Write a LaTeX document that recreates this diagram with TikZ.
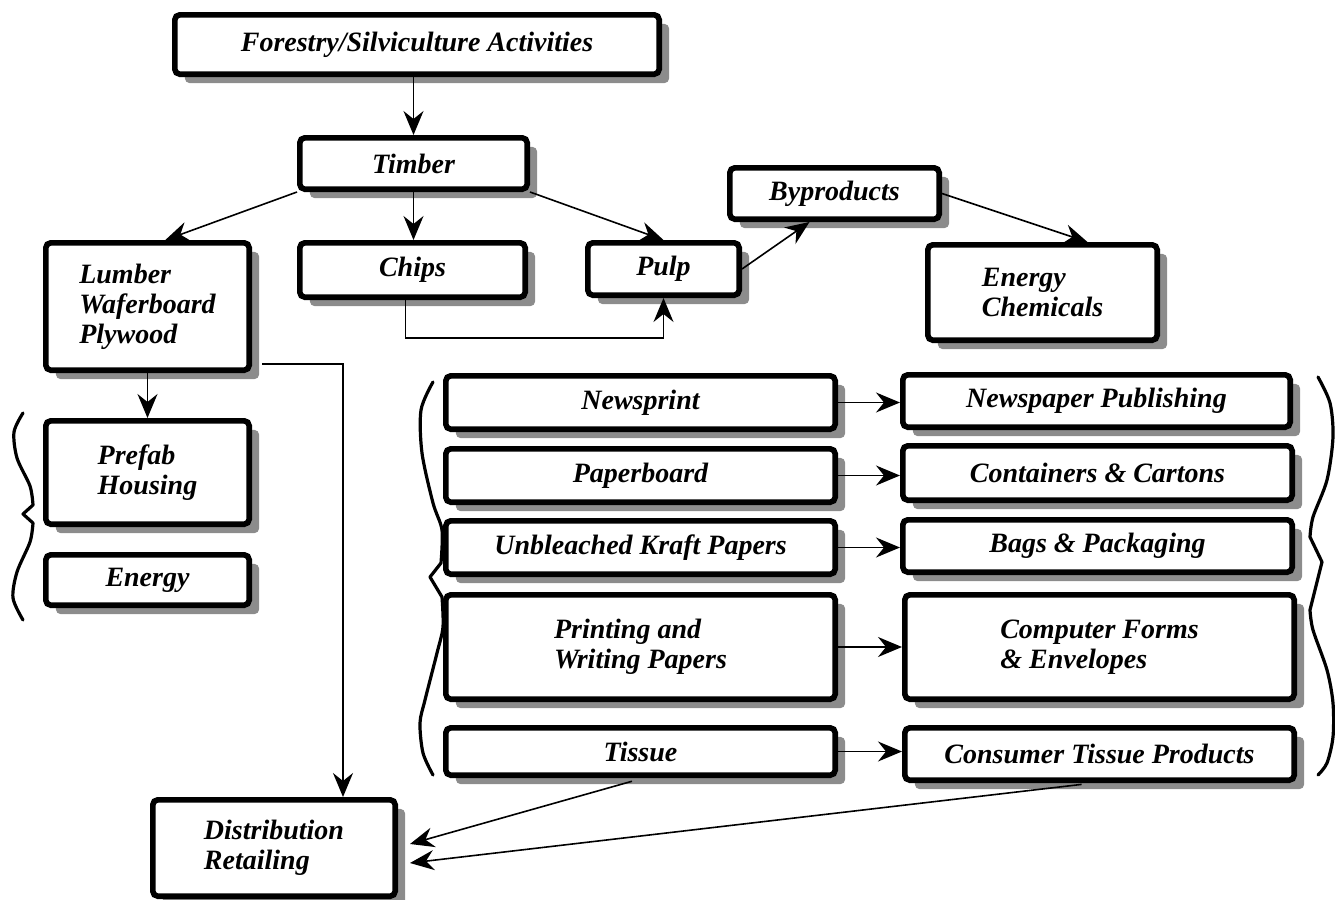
\documentclass[tikz,border=0pt]{standalone}
\usepackage{fontspec}
\setmainfont{Liberation Serif}
\usetikzlibrary{arrows.meta,shadows,calc}

\tikzset{
  box/.style={draw, line width=2.8pt, rounded corners=2.5pt, fill=white,
    inner sep=0pt, align=center,
    font=\fontsize{14}{15}\selectfont\bfseries\itshape,
    drop shadow={shadow xshift=5pt, shadow yshift=-4.5pt, fill=black!45, opacity=1}},
  bsize/.style 2 args={minimum width=#1*0.5pt-2.8pt, minimum height=#2*0.5pt-2.8pt},
  arr/.style={-{Stealth[length=12pt,width=10pt,inset=4pt]}, line width=0.8pt},
  brace/.style={line width=1.6pt, line join=round, line cap=round}
}

\begin{document}
\begin{tikzpicture}[x=0.5pt,y=-0.5pt]
\useasboundingbox (0,0) rectangle (1335,900);

% Boxes
\node[box,bsize={490}{65}] (forestry) at (417,44.5) {Forestry/Silviculture Activities};
\node[box,bsize={233}{57}] (timber) at (413.5,163.5) {Timber};
\node[box,bsize={209}{133},align=left] (lumber) at (147.5,306.5) {Lumber\\Waferboard\\Plywood};
\node[box,bsize={231}{60}] (chips) at (412.5,270) {Chips};
\node[box,bsize={157}{58}] (pulp) at (663.5,269) {Pulp};
\node[box,bsize={215}{57}] (byproducts) at (834.5,193.5) {Byproducts};
\node[box,bsize={235}{101},align=left] (energychem) at (1042.5,292.5) {Energy\\Chemicals};
\node[box,bsize={209}{109},align=left] (prefab) at (147.5,472.5) {Prefab\\Housing};
\node[box,bsize={209}{56}] (energy) at (147.5,580) {Energy};

% Paper grades
\node[box,bsize={395}{59}] (newsprint) at (640.5,402.5) {Newsprint};
\node[box,bsize={395}{59}] (paperboard) at (640.5,475.5) {Paperboard};
\node[box,bsize={395}{59}] (kraft) at (640.5,547.5) {Unbleached Kraft Papers};
\node[box,bsize={395}{110},align=left] (printing) at (640.5,647) {Printing and\\Writing Papers};
\node[box,bsize={395}{53}] (tissue) at (640.5,751.5) {Tissue};

% End uses
\node[box,bsize={393}{58}] (newspaper) at (1096.5,401) {Newspaper Publishing};
\node[box,bsize={395}{60}] (containers) at (1097.5,473) {Containers \& Cartons};
\node[box,bsize={395}{58}] (bags) at (1097.5,546) {Bags \& Packaging};
\node[box,bsize={395}{110},align=left] (computer) at (1099.5,647) {Computer Forms\\\& Envelopes};
\node[box,bsize={395}{58}] (consumer) at (1099.5,754) {Consumer Tissue Products};

\node[box,bsize={248}{102},align=left] (distribution) at (274,848) {Distribution\\Retailing};

% Connectors
\draw[arr] (timber.north |- forestry.south) -- (timber.north);
\draw[arr] (timber.south west) -- (lumber.75);
\draw[arr] (timber.south) -- (timber.south |- chips.north);
\draw[arr] (timber.south east) -- (pulp.north);
\draw[arr] ($(chips.south)+(-7,0)$) -- ++(0,38) -| (pulp.south);
\draw[arr] (pulp.east) -- ($(byproducts.south)+(-25,0)$);
\draw[arr] (byproducts.east) -- ($(energychem.north)+(45,0)$);
\draw[arr] (lumber.south) -- (prefab.north);
\coordinate (dtop) at ($(distribution.north)+(69,0)$);
\draw[arr] ($(lumber.south east)+(10,-9)$) -| (dtop);

\draw[arr] (newsprint.east) -- (newsprint.east -| newspaper.west);
\draw[arr] (paperboard.east) -- (paperboard.east -| containers.west);
\draw[arr] (kraft.east) -- (kraft.east -| bags.west);
\draw[arr] (printing.east) -- (printing.east -| computer.west);
\draw[arr] (tissue.east) -- (tissue.east -| consumer.west);

\draw[arr,shorten <=6pt] ($(tissue.south)+(3,0)$) -- ($(distribution.east)+(12,-4)$);
\draw[arr,shorten <=6pt] ($(consumer.south)+(-6,0)$) -- ($(distribution.east)+(12,15)$);

% Braces
\draw[brace] plot[smooth] coordinates {(23,413) (14,432) (17,458) (30,486) (33,505)}
  -- (23,514) -- plot[smooth] coordinates {(33,523) (30,542) (17,572) (13,598) (23,620)};
\draw[brace] plot[smooth] coordinates {(433,382) (421,410) (422,453) (433,503) (442,530) (441,563)}
  -- (430,577) -- plot[smooth] coordinates {(442,597) (443,627) (437,653) (425,700) (420,723) (423,753) (433,775)};
\draw[brace] plot[smooth] coordinates {(1318,377) (1330,403) (1333,437) (1327,480) (1313,517) (1310,537)}
  -- (1322,562) -- plot[smooth] coordinates {(1310,610) (1313,630) (1327,670) (1333,703) (1333,737) (1327,763) (1318,775)};

\end{tikzpicture}
\end{document}
